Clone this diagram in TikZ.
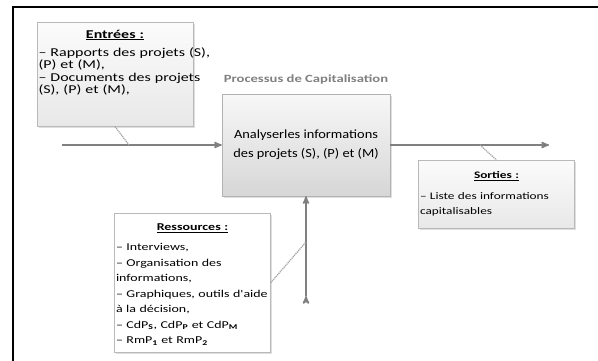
\documentclass[tikz,border=0pt]{standalone}
\usepackage{fontspec}
\setmainfont{Carlito}
\newfontfamily\textefont{Carlito}[FakeStretch=1.33]
\newfontfamily\procfont{Carlito}[FakeStretch=1.15]
\usepackage{tikz}
\usetikzlibrary{arrows,shadows}

\tikzset{
  boite/.style={draw=gray!55, top color=gray!3, bottom color=gray!18,
    drop shadow={opacity=0.25,shadow xshift=1.5pt,shadow yshift=-1.5pt},
    inner xsep=1.5pt, inner ysep=3pt, text width=153pt, anchor=north},
  fleche/.style={->, draw=gray, line width=1.6pt},
  lien/.style={draw=gray!70, line width=1.3pt, dash pattern=on 1.2pt off 0.8pt},
}

\begin{document}
\begin{tikzpicture}[x=1pt,y=-1pt,>=stealth',node distance=66pt]
  \useasboundingbox (0,0) rectangle (598,360);
  \draw[line width=2pt] (13,361) -- (13,7) -- (599,7);

  \node[draw=gray!60, top color=gray!6, bottom color=gray!32, minimum width=168pt,
    minimum height=102pt, align=center, font=\procfont\fontsize{12.5}{19}\selectfont,
    drop shadow={opacity=0.25,shadow xshift=1.5pt,shadow yshift=-1.5pt}]
    (proc) at (306,145) {Analyserles informations\\des projets (S), (P) et (M)};
  \node[text=gray, font=\textefont\fontsize{11}{13}\selectfont\bfseries] (cap) [above of=proc] {Processus de Capitalisation};

  \coordinate (debut) at (62,145);
  \coordinate (fin)   at (549,145);
  \coordinate (bas)   at (306,296);
  \coordinate (e)     at (129,145);
  \coordinate (s)     at (480,145);
  \coordinate (r)     at (306,242);

  \path[fleche] (debut) edge (proc)
                (proc) edge (fin)
                (bas) edge (proc);

  \node[boite, font=\textefont\fontsize{12}{12.5}\selectfont] (entrees) at (115,22)
    {\centering\rule{0pt}{13pt}\underline{\textbf{Entrées :}}\par\vspace{5.5pt}
     \raggedright \mbox{– Rapports des projets (S),}\\(P) et (M),\\\mbox{– Documents des projets}\\(S), (P) et (M),\par\kern28pt};

  \node[boite, minimum height=68pt, font=\textefont\fontsize{10}{15}\selectfont] (sorties) at (496.5,160)
    {\centering\underline{\textbf{Sorties :}}\par\vspace{6pt}
     \raggedright \mbox{– Liste des informations}\\capitalisables};

  \node[boite, top color=white, bottom color=white, font=\textefont\fontsize{10.5}{15.5}\selectfont] (res) at (192.5,213)
    {\centering\rule{0pt}{14.5pt}\underline{\textbf{Ressources :}}\par\vspace{4.5pt}
     \raggedright – Interviews,\\\mbox{– Organisation des}\\informations,\\\mbox{– Graphiques, outils d'aide}\\\mbox{à la décision,}\\
     \mbox{– CdP\textsubscript{\textbf{S}}, CdP\textsubscript{\textbf{P}} et CdP\textsubscript{\textbf{M}}}\\
     – RmP\textsubscript{\textbf{1}} et RmP\textsubscript{\textbf{2}}\par\kern4pt};

  \path[lien] (entrees.south) edge (e)
              (s) edge (sorties.north)
              (res.east) edge (r);
\end{tikzpicture}
\end{document}
